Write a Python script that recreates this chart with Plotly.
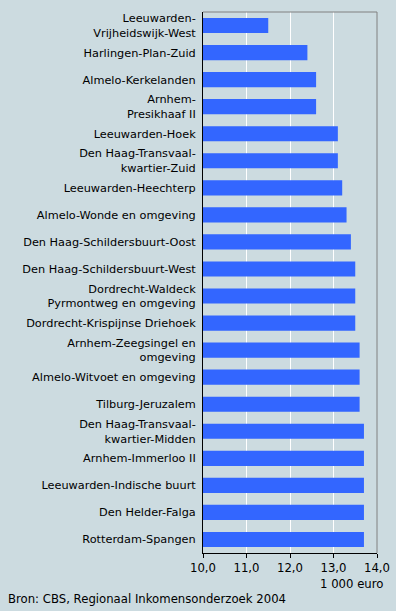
import plotly.graph_objects as go

categories = [
    "Leeuwarden-<br>Vrijheidswijk-West",
    "Harlingen-Plan-Zuid",
    "Almelo-Kerkelanden",
    "Arnhem-<br>Presikhaaf II",
    "Leeuwarden-Hoek",
    "Den Haag-Transvaal-<br>kwartier-Zuid",
    "Leeuwarden-Heechterp",
    "Almelo-Wonde en omgeving",
    "Den Haag-Schildersbuurt-Oost",
    "Den Haag-Schildersbuurt-West",
    "Dordrecht-Waldeck<br>Pyrmontweg en omgeving",
    "Dordrecht-Krispijnse Driehoek",
    "Arnhem-Zeegsingel en<br>omgeving",
    "Almelo-Witvoet en omgeving",
    "Tilburg-Jeruzalem",
    "Den Haag-Transvaal-<br>kwartier-Midden",
    "Arnhem-Immerloo II",
    "Leeuwarden-Indische buurt",
    "Den Helder-Falga",
    "Rotterdam-Spangen",
]
values = [11.5, 12.4, 12.6, 12.6, 13.1, 13.1, 13.2, 13.3, 13.4, 13.5,
          13.5, 13.5, 13.6, 13.6, 13.6, 13.7, 13.7, 13.7, 13.7, 13.7]
tick_vals = [10, 11, 12, 13, 14]
tick_text = ["10,0", "11,0", "12,0", "13,0", "14,0"]

bg = "#CCDBE0"
font = dict(family="DejaVu Sans", size=11.3, color="#000000")
font2 = dict(family="DejaVu Sans", size=11.7, color="#000000")

fig = go.Figure(go.Bar(
    x=values, y=categories, orientation="h",
    marker=dict(color="#3366FF", line=dict(width=0)),
    width=0.56,
))

fig.update_layout(
    width=396, height=611,
    margin=dict(l=203, r=19, t=12, b=58, autoexpand=False),
    paper_bgcolor=bg, plot_bgcolor=bg,
    font=font,
    showlegend=False,
    xaxis=dict(
        range=[10, 14], tickvals=tick_vals, ticktext=tick_text,
        tickfont=font2,
        showgrid=True, gridcolor="#FFFFFF", gridwidth=1,
        showline=True, linecolor="#000000", linewidth=1,
        ticks="outside", ticklen=4, tickcolor="#000000",
        zeroline=False, fixedrange=True, automargin=False,
    ),
    yaxis=dict(
        autorange="reversed",
        showline=True, linecolor="#000000", linewidth=1,
        showgrid=False, ticks="", ticklabelstandoff=4,
        zeroline=False, automargin=False,
    ),
    shapes=[
        dict(type="line", xref="paper", yref="paper", x0=0, x1=1, y0=1, y1=1,
             line=dict(color="#808080", width=1)),
        dict(type="line", xref="paper", yref="paper", x0=1, x1=1, y0=0, y1=1,
             line=dict(color="#808080", width=1)),
    ],
    annotations=[
        dict(text="1 000 euro", xref="paper", yref="paper", x=(385 - 203) / 174, y=0,
             xanchor="right", yanchor="top", yshift=-22, showarrow=False,
             font=font2),
        dict(text="Bron: CBS, Regionaal Inkomensonderzoek 2004", xref="paper",
             yref="paper", x=(6 - 203) / 174, y=0, xanchor="left", yanchor="top",
             yshift=-37, showarrow=False, font=font2),
    ],
)

fig.write_html("out.html", config={"displayModeBar": False},
               post_script="document.body.style.margin='0';document.body.style.overflow='hidden';")
